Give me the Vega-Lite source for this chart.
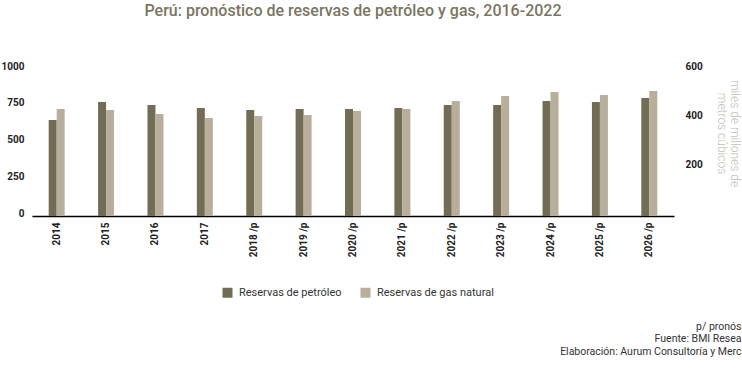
{
  "$schema": "https://vega.github.io/schema/vega-lite/v6.json",
  "width": 642,
  "height": 147,
  "autosize": {"type": "none"},
  "padding": {"left": 32, "top": 69, "right": 68, "bottom": 153},
  "background": "#ffffff",
  "title": {
    "text": "Perú: pronóstico de reservas de petróleo y gas, 2016-2022",
    "font": "Roboto",
    "fontSize": 16,
    "fontWeight": 500,
    "color": "#7a755f",
    "anchor": "middle",
    "frame": "group",
    "offset": 42
  },
  "config": {
    "view": {"stroke": null},
    "font": "Roboto",
    "axis": {"grid": false, "ticks": false, "labelFont": "Roboto", "labelColor": "#222222"}
  },
  "data": {
    "values": [
      {"year": "2014", "serie": "Reservas de petróleo", "value": 653},
      {"year": "2015", "serie": "Reservas de petróleo", "value": 776},
      {"year": "2016", "serie": "Reservas de petróleo", "value": 755},
      {"year": "2017", "serie": "Reservas de petróleo", "value": 735},
      {"year": "2018 /p", "serie": "Reservas de petróleo", "value": 721},
      {"year": "2019 /p", "serie": "Reservas de petróleo", "value": 728},
      {"year": "2020 /p", "serie": "Reservas de petróleo", "value": 728},
      {"year": "2021 /p", "serie": "Reservas de petróleo", "value": 735},
      {"year": "2022 /p", "serie": "Reservas de petróleo", "value": 755},
      {"year": "2023 /p", "serie": "Reservas de petróleo", "value": 755},
      {"year": "2024 /p", "serie": "Reservas de petróleo", "value": 782},
      {"year": "2025 /p", "serie": "Reservas de petróleo", "value": 776},
      {"year": "2026 /p", "serie": "Reservas de petróleo", "value": 803},
      {"year": "2014", "serie": "Reservas de gas natural", "value": 437},
      {"year": "2015", "serie": "Reservas de gas natural", "value": 433},
      {"year": "2016", "serie": "Reservas de gas natural", "value": 416},
      {"year": "2017", "serie": "Reservas de gas natural", "value": 400},
      {"year": "2018 /p", "serie": "Reservas de gas natural", "value": 408},
      {"year": "2019 /p", "serie": "Reservas de gas natural", "value": 412},
      {"year": "2020 /p", "serie": "Reservas de gas natural", "value": 429},
      {"year": "2021 /p", "serie": "Reservas de gas natural", "value": 437},
      {"year": "2022 /p", "serie": "Reservas de gas natural", "value": 469},
      {"year": "2023 /p", "serie": "Reservas de gas natural", "value": 490},
      {"year": "2024 /p", "serie": "Reservas de gas natural", "value": 506},
      {"year": "2025 /p", "serie": "Reservas de gas natural", "value": 494},
      {"year": "2026 /p", "serie": "Reservas de gas natural", "value": 510}
    ]
  },
  "encoding": {
    "x": {
      "field": "year",
      "type": "nominal",
      "sort": null,
      "scale": {"paddingInner": 0.676, "paddingOuter": 0.338},
      "axis": {
        "labelAngle": -90,
        "labelAlign": "right",
        "labelBaseline": "middle",
        "labelPadding": 6,
        "labelFontSize": 10,
        "labelFontWeight": "bold",
        "domainColor": "#000000",
        "domainWidth": 1.5,
        "title": ["p/ pronós", "Fuente: BMI Resea", "Elaboración: Aurum Consultoría y Merc"],
        "titleFont": "Roboto",
        "titleFontSize": 10.5,
        "titleFontWeight": "normal",
        "titleColor": "#333333",
        "titleAlign": "right",
        "titleAnchor": "end",
        "titleBaseline": "alphabetic",
        "titleLineHeight": 12.5,
        "titleX": 709,
        "titleY": 113
      }
    },
    "xOffset": {
      "field": "serie",
      "type": "nominal",
      "scale": {"domain": ["Reservas de petróleo", "Reservas de gas natural"], "paddingInner": 0, "paddingOuter": 0}
    },
    "color": {
      "field": "serie",
      "type": "nominal",
      "scale": {"domain": ["Reservas de petróleo", "Reservas de gas natural"], "range": ["#736c54", "#b7af9c"]},
      "legend": {
        "title": null,
        "orient": "none",
        "direction": "horizontal",
        "legendX": 190,
        "legendY": 218,
        "symbolType": "square",
        "symbolSize": 100,
        "symbolStrokeWidth": 0,
        "labelFont": "Roboto",
        "labelFontSize": 11,
        "labelColor": "#333333",
        "columnPadding": 18,
        "labelOffset": 6
      }
    }
  },
  "layer": [
    {
      "transform": [{"filter": "datum.serie === 'Reservas de petróleo'"}],
      "mark": {"type": "bar"},
      "encoding": {
        "y": {
          "field": "value",
          "type": "quantitative",
          "scale": {"domain": [0, 1000], "nice": false},
          "axis": {
            "orient": "left",
            "values": [0, 250, 500, 750, 1000],
            "format": "d",
            "domain": false,
            "title": null,
            "labelPadding": 8,
            "labelOffset": -3,
            "labelFontSize": 10,
            "labelFontWeight": "bold"
          }
        }
      }
    },
    {
      "transform": [{"filter": "datum.serie === 'Reservas de gas natural'"}],
      "mark": {"type": "bar"},
      "encoding": {
        "y": {
          "field": "value",
          "type": "quantitative",
          "scale": {"domain": [0, 600], "nice": false},
          "axis": {
            "orient": "right",
            "values": [200, 400, 600],
            "format": "d",
            "domain": false,
            "labelPadding": 11,
            "labelOffset": -3,
            "labelFontSize": 10,
            "labelFontWeight": "bold",
            "title": ["miles de millones de", "metros cúbicos"],
            "titleFont": "Roboto",
            "titleFontSize": 12,
            "titleFontWeight": 300,
            "titleColor": "#c2beb4",
            "titleAngle": 90,
            "titleAlign": "center",
            "titleBaseline": "middle",
            "titleLineHeight": 13,
            "titleX": 60,
            "titleY": 64
          }
        }
      }
    }
  ],
  "resolve": {"scale": {"y": "independent"}}
}
